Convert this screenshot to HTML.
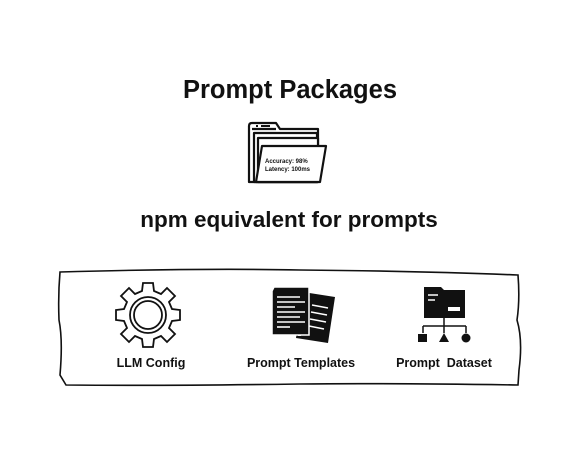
<!DOCTYPE html>
<html><head><style>
body{margin:0;width:583px;height:455px;background:#fff;overflow:hidden}
svg text{font-family:"Liberation Sans",sans-serif;font-weight:bold;fill:#111}
</style></head><body>
<svg width="583" height="455" viewBox="0 0 583 455">
<text x="290" y="98" font-size="25.5" text-anchor="middle">Prompt Packages</text>
<text x="289" y="227" font-size="22.5" text-anchor="middle">npm equivalent for prompts</text>
<g fill="#fff" stroke="#111" stroke-width="2.2" stroke-linejoin="round">
<path d="M249 182 V126 Q249 123 252 123 H276 L280 129 H318 V182 Z"/>
<line x1="252" y1="129" x2="276" y2="129"/>
<rect x="254" y="133" width="63" height="49"/>
<rect x="258" y="138" width="60" height="44"/>
<path d="M262 146 H326 L320 182 H256 Z"/>
</g>
<line x1="256" y1="126" x2="258" y2="126" stroke="#111" stroke-width="2"/>
<line x1="261" y1="126" x2="270" y2="126" stroke="#111" stroke-width="2"/>
<text x="265" y="163" font-size="6">Accuracy: 98%</text>
<text x="265" y="171" font-size="6">Latency: 100ms</text>
<path d="M60 272 Q200 268 300 270 Q420 271 518 275 Q520 300 517 320 Q523 340 519 370 L518 385 Q380 383 300 384 Q160 386 66 385 L60 375 Q63 340 59 320 Q58 295 60 272 Z" fill="none" stroke="#111" stroke-width="1.6"/>
<g transform="translate(148,315)" fill="none" stroke="#111" stroke-width="1.8">
<path d="M-5 -32 H5 L6 -24 L13 -21 L19 -27 L27 -19 L21 -13 L24 -6 L32 -5 V5 L24 6 L21 13 L27 19 L19 27 L13 21 L6 24 L5 32 H-5 L-6 24 L-13 21 L-19 27 L-27 19 L-21 13 L-24 6 L-32 5 V-5 L-24 -6 L-21 -13 L-27 -19 L-19 -27 L-13 -21 L-6 -24 Z"/>
<circle r="18"/><circle r="14"/>
</g>
<g>
<path d="M303 292 L335 297 L328 343 L296 338 Z" fill="#111"/>
<path d="M305 292 L308 293 L301 336 L298 336 Z" fill="#fff"/>
<path d="M274 287 H309 V335 H272 V291 Z" fill="#111" stroke="#fff" stroke-width="1.5"/>
<g stroke="#fff" stroke-width="1.6">
<line x1="277" y1="297" x2="300" y2="297"/><line x1="277" y1="302" x2="305" y2="302"/>
<line x1="277" y1="307" x2="295" y2="307"/><line x1="277" y1="312" x2="305" y2="312"/>
<line x1="277" y1="317" x2="300" y2="317"/><line x1="277" y1="322" x2="305" y2="322"/>
<line x1="277" y1="327" x2="290" y2="327"/>
<line x1="312" y1="305" x2="328" y2="308"/><line x1="311" y1="312" x2="327" y2="315"/>
<line x1="310" y1="319" x2="326" y2="322"/><line x1="309" y1="326" x2="324" y2="329"/>
</g>
</g>
<g>
<path d="M424 287 H441 L444 290 H465 V318 H424 Z" fill="#111"/>
<line x1="428" y1="295" x2="438" y2="295" stroke="#fff" stroke-width="1.5"/>
<line x1="428" y1="300" x2="435" y2="300" stroke="#fff" stroke-width="1.5"/>
<rect x="448" y="307" width="12" height="4" fill="#fff"/>
<g stroke="#111" stroke-width="1.5" fill="none">
<line x1="444" y1="318" x2="444" y2="326"/><line x1="423" y1="326" x2="466" y2="326"/>
<line x1="423" y1="326" x2="423" y2="333"/><line x1="444" y1="326" x2="444" y2="333"/><line x1="466" y1="326" x2="466" y2="333"/>
</g>
<rect x="418" y="334" width="9" height="8" fill="#111"/>
<path d="M444 333 L449 342 H439 Z" fill="#111"/>
<circle cx="466" cy="338" r="4.5" fill="#111"/>
</g>
<text x="151" y="367" font-size="12.5" text-anchor="middle">LLM Config</text>
<text x="301" y="367" font-size="12.5" text-anchor="middle">Prompt Templates</text>
<text x="444" y="367" font-size="12.5" text-anchor="middle" xml:space="preserve">Prompt  Dataset</text>
</svg>
</body></html>
